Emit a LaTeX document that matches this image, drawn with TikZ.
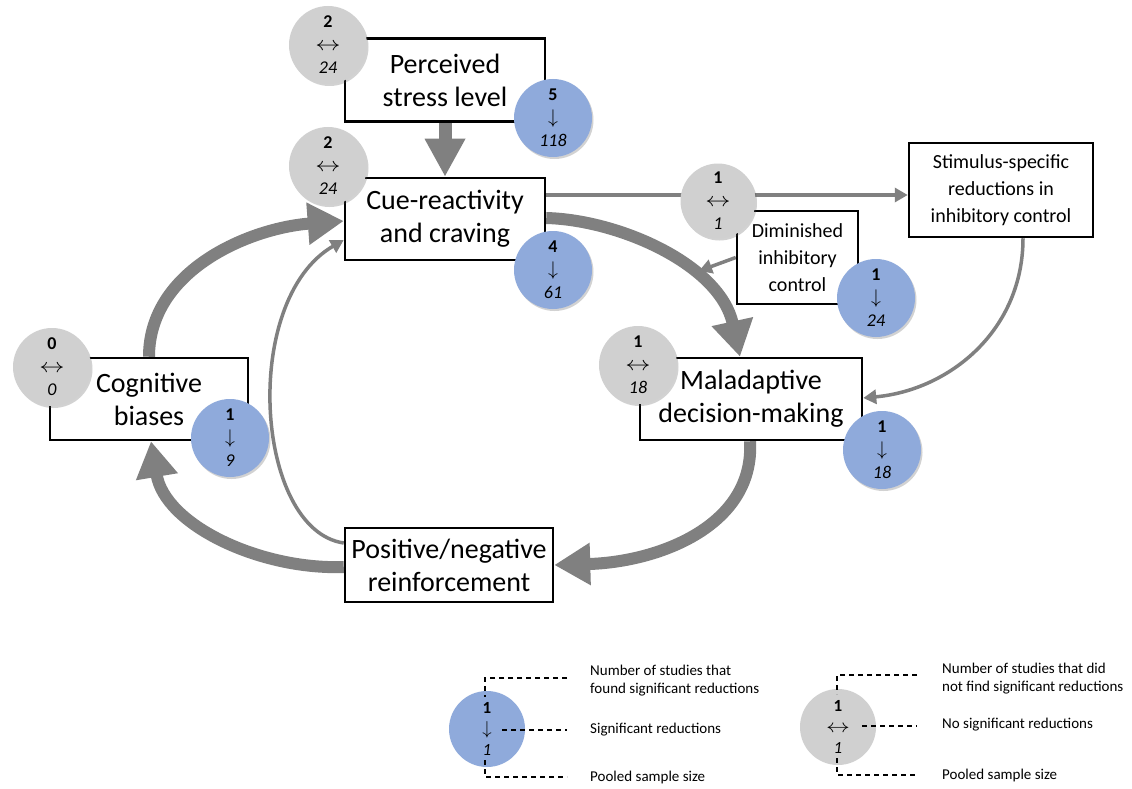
\RequirePackage{fix-cm}
\documentclass[tikz,border=0pt]{standalone}
\usepackage{fontspec}
\setmainfont{Carlito}
\usetikzlibrary{arrows.meta,calc,shadows}

\definecolor{statblue}{RGB}{143,170,219}
\definecolor{statgray}{RGB}{208,208,208}
\definecolor{flow}{RGB}{128,128,128}

\pgfdeclarelayer{back}
\pgfsetlayers{back,main}

\newcommand{\statsig}[2]{\textbf{#1}\\\scalebox{1.1}{$\downarrow$}\\\textit{#2}}
\newcommand{\statnone}[2]{\textbf{#1}\\\scalebox{1.4}[1.1]{$\leftrightarrow$}\\\textit{#2}}

\begin{document}
\begin{tikzpicture}[x=1pt,y=-1pt,
  box/.style={draw=black,line width=2.5pt,fill=white,inner sep=0pt,align=center,
    font=\fontsize{28}{33}\selectfont},
  smallbox/.style={box,font=\fontsize{20}{27}\selectfont},
  stat/.style={circle,inner sep=0pt,minimum size=78pt,align=center,
    font=\fontsize{18}{23}\selectfont,
    drop shadow={shadow xshift=1.5pt,shadow yshift=-2pt,opacity=0.25,fill=black!70}},
  sig/.style={stat,fill=statblue},
  nosig/.style={stat,fill=statgray},
  legsig/.style={circle,inner sep=0pt,minimum size=76pt,align=center,
    font=\fontsize{17}{21}\selectfont,fill=statblue},
  legnosig/.style={legsig,fill=statgray},
  thick flow/.style={draw=flow,line width=12pt,-{Triangle[length=36pt,width=40pt]}},
  thin flow/.style={draw=flow,line width=3.5pt,-{Triangle[length=13pt,width=14pt]}},
  lead/.style={draw=black,line width=1.2pt,dash pattern=on 5pt off 4pt},
  legendtext/.style={anchor=west,align=left,inner sep=0pt,
    font=\fontsize{15}{18}\selectfont}
]
\useasboundingbox (0,0) rectangle (1132,789);
\begin{pgfonlayer}{back}
  \fill[white] (0,0) rectangle (1132,789);
\end{pgfonlayer}

% boxes
\node[box,minimum width=200pt,minimum height=83pt] (perc) at (445,80) {Perceived\\stress level};
\node[box,minimum width=200pt,minimum height=82pt] (cue) at (445,219) {Cue-reactivity\\and craving};
\node[smallbox,minimum width=184pt,minimum height=94pt] (stim) at (1001,190) {Stimulus-specific\\reductions in\\inhibitory control};
\node[smallbox,minimum width=121pt,minimum height=93pt] (dim) at (797.5,257.5) {Diminished\\inhibitory\\control};
\node[box,minimum width=198pt,minimum height=82pt] (cog) at (149,399) {Cognitive\\biases};
\node[box,minimum width=222pt,minimum height=82pt] (mal) at (751,399) {Maladaptive\\decision-making};
\node[box,minimum width=208pt,minimum height=74pt] (reinf) at (449,565) {Positive/negative\\reinforcement};

% connectors (behind boxes and circles)
\coordinate (dimtip) at (699,271);
\begin{pgfonlayer}{back}
  \draw[draw=flow,line width=13pt,-{Triangle[length=38pt,width=38pt]}] (perc.south) -- (cue.north);
  \draw[thick flow] (cog.north) .. controls (149,270) and (250,228) .. ($(cue.west)+(0,2)$);
  \draw[thin flow] ($(reinf.west)+(0,-22)$) .. controls (255,530) and (240,300) .. ($(cue.west)+(0,21)$);
  \draw[thick flow] ($(cue.east)+(0,-1)$) .. controls (620,220) and (720,265) .. ($(mal.north)+(-11,0)$);
  \draw[thin flow] ($(cue.east)+(0,-24)$) -- ($(stim.west)+(0,5)$);
  \draw[thin flow] (dim.west) -- (dimtip);
  \draw[thin flow] ($(stim.south)+(22,0)$) .. controls (1023,330) and (950,390) .. ($(mal.east)+(0,-1)$);
  \draw[thick flow] ($(mal.south)+(-1,0)$) .. controls (755,525) and (660,562) .. (reinf.east);
  \draw[thick flow] ($(reinf.west)+(0,2)$) .. controls (260,570) and (165,525) .. ($(cog.south)+(2,0)$);
\end{pgfonlayer}

% study counts
\node[nosig] (g1) at (328,45) {\statnone{2}{24}};
\node[sig] (b1) at (553,118) {\statsig{5}{118}};
\node[nosig] (g2) at (328,166) {\statnone{2}{24}};
\node[sig] (b2) at (553,270) {\statsig{4}{61}};
\node[nosig,minimum size=75pt] (g3) at (718,201) {\statnone{1}{1}};
\node[sig] (b3) at (876,298) {\statsig{1}{24}};
\node[nosig] (g4) at (52,367) {\statnone{0}{0}};
\node[sig] (b4) at (230,438) {\statsig{1}{9}};
\node[nosig] (g5) at (638,365) {\statnone{1}{18}};
\node[sig] (b5) at (882,450) {\statsig{1}{18}};

% legend: significant
\node[legsig] (lb) at (487,729) {\statsig{1}{1}};
\coordinate (lbA) at (567,678); \coordinate (lbB) at (485,678); \coordinate (lbC) at (485,697);
\coordinate (lbD) at (485,760); \coordinate (lbE) at (485,777); \coordinate (lbF) at (567,777);
\coordinate (lbG) at (502,730); \coordinate (lbH) at (567,730);
\draw[lead] (lbA) -- (lbB) -- (lbC);
\draw[lead] (lbD) -- (lbE) -- (lbF);
\draw[lead] (lbG) -- (lbH);
\node[legendtext] (lt1) at (590,681) {Number of studies that\\found significant reductions};
\node[legendtext] (lt2) at (590,730) {Significant reductions};
\node[legendtext] (lt3) at (590,777) {Pooled sample size};

% legend: not significant
\node[legnosig] (lg) at (838,727) {\statnone{1}{1}};
\coordinate (lgA) at (917,675); \coordinate (lgB) at (837,675); \coordinate (lgC) at (837,694);
\coordinate (lgD) at (837,758); \coordinate (lgE) at (837,775); \coordinate (lgF) at (917,775);
\coordinate (lgG) at (862,726); \coordinate (lgH) at (917,726);
\draw[lead] (lgA) -- (lgB) -- (lgC);
\draw[lead] (lgD) -- (lgE) -- (lgF);
\draw[lead] (lgG) -- (lgH);
\node[legendtext] (lt4) at (942,679) {Number of studies that did\\not find significant reductions};
\node[legendtext] (lt5) at (942,725) {No significant reductions};
\node[legendtext] (lt6) at (942,775) {Pooled sample size};
\end{tikzpicture}
\end{document}
